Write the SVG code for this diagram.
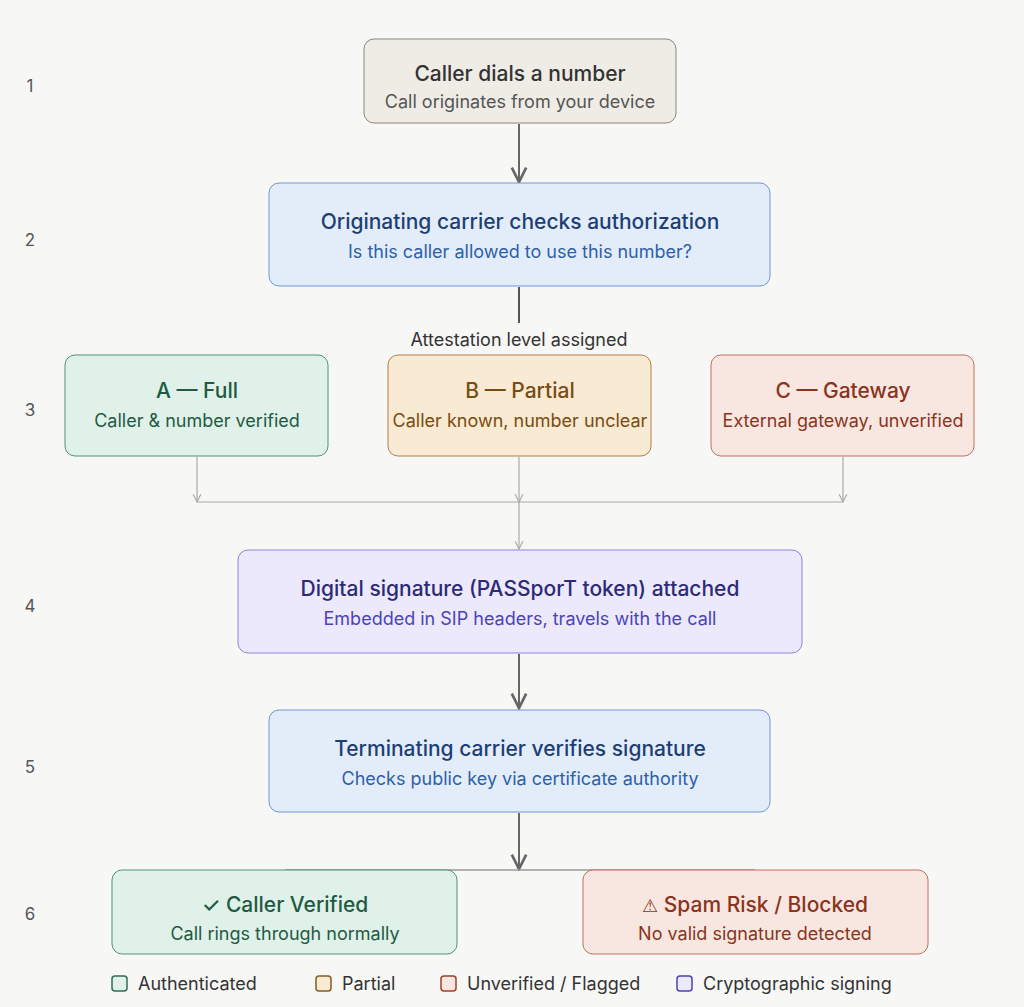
<svg xmlns="http://www.w3.org/2000/svg" width="1024" height="1007" viewBox="0 0 1024 1007">
<defs>
<style>
text{font-family:Inter,"Noto Sans",sans-serif;text-anchor:middle}
.t{font-size:21px;font-weight:500}
.s{font-size:18px}
.num{font-size:17px;fill:#555}
.g rect{fill:#dff1e8;stroke:#4f9378}
.g text{fill:#1f5a43}
.p rect{fill:#f8ead3;stroke:#b0804a}
.p text{fill:#7a4c12}
.r rect{fill:#f8e7e1;stroke:#c0705a}
.r text{fill:#8a3420}
.b rect{fill:#e3edfa;stroke:#6f97d6}
.b .t{fill:#1d3f75}.b .s{fill:#2e60a8}
.v rect{fill:#ebe9fb;stroke:#8c85d8}
.v .t{fill:#2e2a77}.v .s{fill:#4c43b8}
.n rect{fill:#efece6;stroke:#8a877f}
.n .t{fill:#333}.n .s{fill:#555}
.lg{font-size:18px;fill:#333;text-anchor:start}
</style>
<marker id="ah" viewBox="0 0 10 10" refX="9" refY="5" markerWidth="9" markerHeight="9" orient="auto"><path d="M1 1 L9 5 L1 9" fill="none" stroke="#666" stroke-width="1.5"/></marker>
<marker id="ahs" viewBox="0 0 10 10" refX="9" refY="5" markerWidth="8" markerHeight="8" orient="auto"><path d="M1 1 L9 5 L1 9" fill="none" stroke="#aaa" stroke-width="1.2"/></marker>
</defs>
<rect width="1024" height="1007" fill="#f7f7f5"/>
<g class="num"><text x="30" y="92">1</text><text x="30" y="246">2</text><text x="30" y="416">3</text><text x="30" y="612">4</text><text x="30" y="773">5</text><text x="30" y="920">6</text></g>
<g id="connectors" fill="none">
<line x1="519" y1="124" x2="519" y2="182" stroke="#666" stroke-width="2" marker-end="url(#ah)"/>
<line x1="519" y1="287" x2="519" y2="323" stroke="#555" stroke-width="2"/>
<g stroke="#aaa" stroke-width="1.2">
<line x1="197" y1="457" x2="197" y2="502" marker-end="url(#ahs)"/>
<line x1="519" y1="457" x2="519" y2="502" marker-end="url(#ahs)"/>
<line x1="843" y1="457" x2="843" y2="502" marker-end="url(#ahs)"/>
<line x1="197" y1="502" x2="843" y2="502"/>
<line x1="519" y1="502" x2="519" y2="549" marker-end="url(#ahs)"/>
</g>
<line x1="519" y1="654" x2="519" y2="708" stroke="#666" stroke-width="2" marker-end="url(#ah)"/>
<line x1="519" y1="813" x2="519" y2="869" stroke="#666" stroke-width="2" marker-end="url(#ah)"/>
<line x1="285" y1="870" x2="755" y2="870" stroke="#999" stroke-width="1.5"/>
</g>
<text x="519" y="346" style="font-size:18px;fill:#333">Attestation level assigned</text>
<g id="n1" class="n"><rect x="364" y="39" width="312" height="84" rx="10"/><text class="t" x="520" y="81">Caller dials a number</text><text class="s" x="520" y="108">Call originates from your device</text></g>
<g id="n2" class="b"><rect x="269" y="183" width="501" height="103" rx="10"/><text class="t" x="520" y="229">Originating carrier checks authorization</text><text class="s" x="520" y="258">Is this caller allowed to use this number?</text></g>
<g id="nA" class="g"><rect x="65" y="355" width="263" height="101" rx="10"/><text class="t" x="197" y="398">A — Full</text><text class="s" x="197" y="427">Caller &amp; number verified</text></g>
<g id="nB" class="p"><rect x="388" y="355" width="263" height="101" rx="10"/><text class="t" x="520" y="398">B — Partial</text><text class="s" x="520" y="427">Caller known, number unclear</text></g>
<g id="nC" class="r"><rect x="711" y="355" width="263" height="101" rx="10"/><text class="t" x="843" y="398">C — Gateway</text><text class="s" x="843" y="427">External gateway, unverified</text></g>
<g id="n4" class="v"><rect x="238" y="550" width="564" height="103" rx="10"/><text class="t" x="520" y="596">Digital signature (PASSporT token) attached</text><text class="s" x="520" y="625">Embedded in SIP headers, travels with the call</text></g>
<g id="n5" class="b"><rect x="269" y="710" width="501" height="102" rx="10"/><text class="t" x="520" y="756">Terminating carrier verifies signature</text><text class="s" x="520" y="785">Checks public key via certificate authority</text></g>
<g id="n6a" class="g"><rect x="112" y="870" width="345" height="84" rx="10"/><text class="t" x="285" y="912">✓ Caller Verified</text><text class="s" x="285" y="940">Call rings through normally</text></g>
<g id="n6b" class="r"><rect x="583" y="870" width="345" height="84" rx="10"/><text class="t" x="755" y="912"><tspan style="font-family:'DejaVu Sans',sans-serif;font-size:18px">⚠︎</tspan> Spam Risk / Blocked</text><text class="s" x="755" y="940">No valid signature detected</text></g>
<g id="legend">
<rect x="112" y="976" width="15" height="15" rx="3" fill="#dff1e8" stroke="#2f6e55" stroke-width="1.5"/><text class="lg" x="138" y="990">Authenticated</text>
<rect x="316" y="976" width="15" height="15" rx="3" fill="#f8ead3" stroke="#8a5a20" stroke-width="1.5"/><text class="lg" x="342" y="990">Partial</text>
<rect x="441" y="976" width="15" height="15" rx="3" fill="#f8e7e1" stroke="#a0402a" stroke-width="1.5"/><text class="lg" x="467" y="990">Unverified / Flagged</text>
<rect x="677" y="976" width="15" height="15" rx="3" fill="#ebe9fb" stroke="#4c43b8" stroke-width="1.5"/><text class="lg" x="703" y="990">Cryptographic signing</text>
</g>
</svg>
